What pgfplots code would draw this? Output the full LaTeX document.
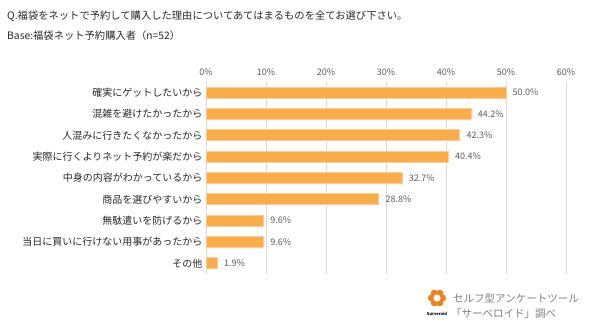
\documentclass[border=0pt]{standalone}
\usepackage{pgfplots}
\pgfplotsset{compat=1.18}
\usepackage{fontspec}
\setmainfont{Noto Sans CJK JP}
\definecolor{barfill}{RGB}{249,172,72}
\definecolor{barline}{RGB}{251,204,150}
\definecolor{gridc}{RGB}{217,217,217}
\definecolor{txt}{RGB}{40,40,40}
\definecolor{tickc}{RGB}{89,89,89}
\definecolor{logoc}{RGB}{240,130,30}
\definecolor{graytxt}{RGB}{128,128,128}
\begin{document}
\begin{tikzpicture}[x=1bp,y=1bp]
\path[use as bounding box] (0,0) rectangle (596,-328);
\node[anchor=base west, font=\fontsize{10.3bp}{12bp}\selectfont, text=txt, inner sep=0] at (7,-19) {Q.福袋をネットで予約して購入した理由についてあてはまるものを全てお選び下さい。};
\node[anchor=base west, font=\fontsize{10.3bp}{12bp}\selectfont, text=txt, inner sep=0] at (7,-39) {Base:福袋ネット予約購入者（n=52）};
\begin{axis}[
  at={(206bp,-82bp)}, anchor=north west,
  scale only axis, width=360bp, height=192bp,
  xmin=0, xmax=60, ymin=-0.5, ymax=8.5,
  y dir=reverse,
  xbar, bar width=11bp,
  xtick={0,10,20,30,40,50,60},
  xticklabel={\pgfmathprintnumber{\tick}\%},
  xticklabel pos=upper,
  xticklabel style={font=\fontsize{9bp}{10bp}\selectfont, text=tickc, yshift=3bp},
  /pgf/number format/assume math mode=true,
  ytick={0,1,2,3,4,5,6,7,8},
  yticklabels={確実にゲットしたいから,混雑を避けたかったから,人混みに行きたくなかったから,実際に行くよりネット予約が楽だから,中身の内容がわかっているから,商品を選びやすいから,無駄遣いを防げるから,当日に買いに行けない用事があったから,その他},
  yticklabel style={font=\fontsize{10bp}{11bp}\selectfont, text=txt},
  xmajorgrids, grid style={gridc, line width=1bp},
  axis line style={draw=none},
  major tick length=0pt,
  nodes near coords={\pgfmathprintnumber[fixed,fixed zerofill,precision=1]{\pgfplotspointmeta}\%},
  nodes near coords style={font=\fontsize{9bp}{10bp}\selectfont, text=tickc, anchor=west, xshift=3bp},
  clip=false,
]
\addplot[fill=barfill, draw=barline, line width=0.8bp] coordinates {
(50.0,0) (44.2,1) (42.3,2) (40.4,3) (32.7,4) (28.8,5) (9.6,6) (9.6,7) (1.9,8)};
\end{axis}
% logo
\begin{scope}[shift={(437,-298)}]
\foreach \a in {0,60,...,300} {\fill[logoc] (\a:5.5) circle (3.6);}
\fill[white] (0,0) circle (3.6);
\end{scope}
\node[font=\fontsize{4bp}{5bp}\selectfont\bfseries, text=black, inner sep=0] at (437,-314) {Surveroid};
\node[anchor=base west, font=\fontsize{10.5bp}{12bp}\selectfont, text=graytxt, inner sep=0] at (453,-302) {セルフ型アンケートツール};
\node[anchor=base west, font=\fontsize{10.5bp}{12bp}\selectfont, text=graytxt, inner sep=0] at (451,-317) {「サーベロイド」調べ};
\end{tikzpicture}
\end{document}
